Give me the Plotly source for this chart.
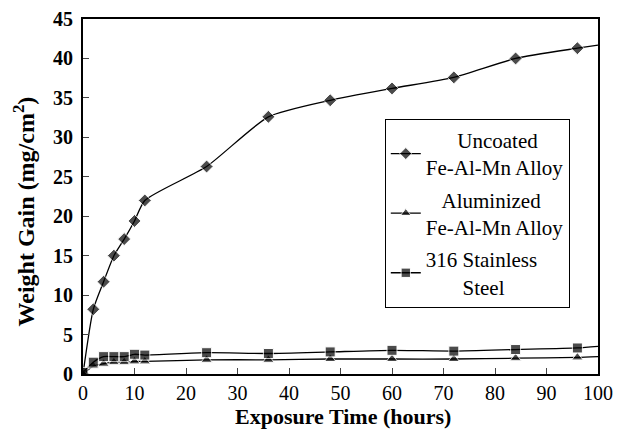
import plotly.graph_objects as go

hours = [0, 2, 4, 6, 8, 10, 12, 24, 36, 48, 60, 72, 84, 96, 100]
uncoated = [0, 8.2, 11.7, 15.0, 17.1, 19.4, 22.0, 26.3, 32.6, 34.7, 36.2, 37.6, 40.0, 41.3, 41.7]
aluminized = [0, 1.0, 1.3, 1.5, 1.5, 1.6, 1.6, 1.8, 1.8, 1.9, 1.9, 1.9, 2.0, 2.1, 2.2]
stainless = [0.2, 1.5, 2.2, 2.2, 2.2, 2.5, 2.4, 2.7, 2.6, 2.8, 3.0, 2.9, 3.1, 3.3, 3.5]
names = ["&nbsp;&nbsp;&nbsp;&nbsp;&nbsp;&nbsp;Uncoated<br>Fe-Al-Mn Alloy",
         "&nbsp;&nbsp;&nbsp;Aluminized<br>Fe-Al-Mn Alloy",
         "316 Stainless<br>&nbsp;&nbsp;&nbsp;&nbsp;&nbsp;&nbsp;&nbsp;Steel"]
symbols = ["diamond", "triangle-up", "square"]
sizes = [10, 10, 10]

fig = go.Figure()
for i, (ys, nm, sym, sz) in enumerate(zip([uncoated, aluminized, stainless], names, symbols, sizes)):
    msize = [sz] * (len(hours) - 1) + [0]
    fig.add_trace(go.Scatter(
        x=hours, y=ys, name=nm, mode="lines+markers", legendgroup=f"g{i}",
        line=dict(color="black", width=1.3, shape="spline", smoothing=0.6),
        marker=dict(symbol=sym, size=msize, color="black"),
    ))

serif = "Liberation Serif, Times New Roman, serif"
# page body has an 8px margin, so margins are reduced by 8px to land the plot area in place
fig.update_layout(
    width=628, height=429,
    margin=dict(l=75, r=38, t=11, b=63),
    paper_bgcolor="white", plot_bgcolor="white",
    font=dict(family=serif, color="black", size=20),
    legend=dict(
        x=0.586, y=0.719, xanchor="left", yanchor="top",
        bordercolor="black", borderwidth=1, bgcolor="white",
        font=dict(family=serif, size=21, color="black"),
        tracegroupgap=2, itemsizing="trace", itemwidth=30,
    ),
    showlegend=True,
    annotations=[
        dict(text="<b>Exposure Time (hours)</b>", xref="paper", yref="paper",
             x=0.504, y=-0.121, xanchor="center", yanchor="middle", showarrow=False,
             font=dict(family=serif, size=22, color="black")),
        dict(text="<b>Weight Gain (mg/cm<sup>2</sup>)</b>", xref="paper", yref="paper",
             x=-0.1146, y=0.458, xanchor="center", yanchor="middle", showarrow=False,
             textangle=-90, font=dict(family=serif, size=24, color="black")),
    ],
)
fig.update_xaxes(
    range=[0, 100], tick0=0, dtick=10, ticks="inside", ticklen=6,
    showline=True, linecolor="black", linewidth=2, mirror=True,
    showgrid=False, zeroline=False, automargin=False, ticklabeloverflow="allow",
    tickfont=dict(family=serif, size=20, color="black"),
)
fig.update_yaxes(
    range=[0, 45], tick0=0, dtick=5, ticks="inside", ticklen=6,
    showline=True, linecolor="black", linewidth=2, mirror=True,
    showgrid=False, zeroline=False, automargin=False, ticklabeloverflow="allow",
    tickfont=dict(family=serif, size=20, color="black"),
    tickprefix="<b>", ticksuffix="</b>", ticklabelstandoff=4,
)
fig.write_html("out.html")
